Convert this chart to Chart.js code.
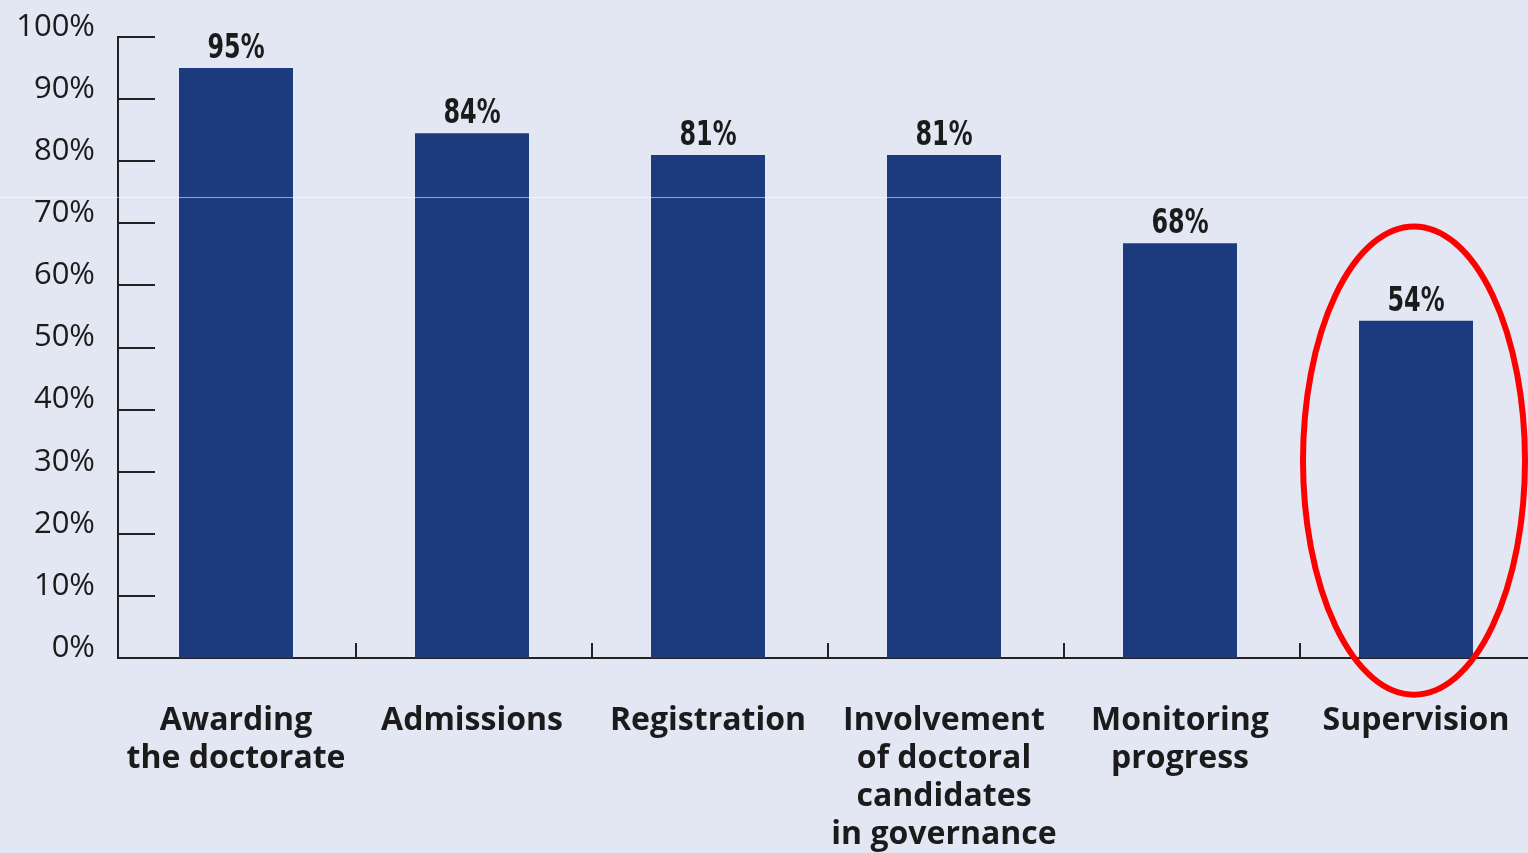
<!DOCTYPE html>
<html>
<head>
<meta charset="utf-8">
<script src="https://cdn.jsdelivr.net/npm/chart.js@4/dist/chart.umd.min.js"></script>
<style>
  html, body { margin: 0; padding: 0; overflow: hidden; background: #e3e6f3; }
  #wrap { width: 1540px; height: 853px; }
</style>
</head>
<body>
<div id="wrap"><canvas id="c" width="1540" height="853"></canvas></div>
<script>
const categories = [
  ["Awarding", "the doctorate"],
  ["Admissions"],
  ["Registration"],
  ["Involvement", "of doctoral", "candidates", "in governance"],
  ["Monitoring", "progress"],
  ["Supervision"]
];
const barValues = [95, 84.5, 81, 81, 66.8, 54.3];
const valueLabels = ["95%", "84%", "81%", "81%", "68%", "54%"];
const yTicks = [0, 10, 20, 30, 40, 50, 60, 70, 80, 90, 100];
const highlightIndex = 5;

const BG = '#e3e6f3';
const BAR = '#1c3b7f';
const INK = '#1b1b1b';

const decor = {
  id: 'decor',
  beforeDraw(chart) {
    const ctx = chart.ctx;
    ctx.save();
    ctx.fillStyle = BG;
    ctx.fillRect(0, 0, chart.width, chart.height);
    ctx.restore();
  },
  afterDatasetsDraw(chart) {
    const ctx = chart.ctx;
    const x = chart.scales.x, y = chart.scales.y;
    const area = chart.chartArea;
    ctx.save();
    ctx.strokeStyle = '#222';
    ctx.lineWidth = 2;
    yTicks.forEach(v => {
      if (v === 0) return;
      const py = Math.round(y.getPixelForValue(v));
      ctx.beginPath();
      ctx.moveTo(area.left, py);
      ctx.lineTo(area.left + 37, py);
      ctx.stroke();
    });
    for (let i = 0; i < categories.length - 1; i++) {
      const px = Math.round((x.getPixelForValue(i) + x.getPixelForValue(i + 1)) / 2) + 2;
      ctx.beginPath();
      ctx.moveTo(px, area.bottom);
      ctx.lineTo(px, area.bottom - 15);
      ctx.stroke();
    }
    ctx.fillStyle = INK;
    ctx.font = 'bold 34px "DejaVu Sans Condensed", "DejaVu Sans", sans-serif';
    ctx.textAlign = 'center';
    ctx.textBaseline = 'alphabetic';
    chart.getDatasetMeta(0).data.forEach((bar, i) => {
      ctx.save();
      ctx.translate(bar.x, bar.y - 10);
      ctx.scale(0.78, 1);
      ctx.fillText(valueLabels[i], 0, 0);
      ctx.restore();
    });
    ctx.restore();
  },
  afterDraw(chart) {
    const ctx = chart.ctx;
    const x = chart.scales.x, y = chart.scales.y;
    ctx.save();
    ctx.strokeStyle = 'rgba(255,255,255,0.55)';
    ctx.lineWidth = 1;
    ctx.beginPath();
    ctx.moveTo(0, 197.5);
    ctx.lineTo(chart.width, 197.5);
    ctx.stroke();
    const cx = x.getPixelForValue(highlightIndex) - 2;
    const cy = y.getPixelForValue(31.8);
    const ry = y.getPixelForValue(0) - y.getPixelForValue(37.7);
    ctx.strokeStyle = '#ff0000';
    ctx.lineWidth = 6;
    ctx.beginPath();
    ctx.ellipse(cx, cy, 111, ry, 0, 0, Math.PI * 2);
    ctx.stroke();
    ctx.restore();
  }
};

new Chart(document.getElementById('c'), {
  type: 'bar',
  data: {
    labels: categories,
    datasets: [{
      data: barValues,
      backgroundColor: BAR,
      borderWidth: 0,
      barPercentage: 1.0,
      categoryPercentage: 0.483
    }]
  },
  options: {
    responsive: false,
    animation: false,
    devicePixelRatio: 1,
    layout: { padding: { top: 37, right: 6, left: 0, bottom: 0 } },
    plugins: { legend: { display: false }, tooltip: { enabled: false } },
    scales: {
      x: {
        grid: { display: false, drawTicks: false },
        border: { display: true, color: '#222', width: 2 },
        afterFit(s) { s.height = 195; s.paddingLeft = 0; s.paddingRight = 0; },
        ticks: {
          autoSkip: false,
          maxRotation: 0,
          minRotation: 0,
          padding: 44,
          color: INK,
          font: { family: '"Open Sans", "Noto Sans", sans-serif', weight: 'bold', size: 32, lineHeight: 1.19 }
        }
      },
      y: {
        min: 0,
        max: 100,
        afterFit(s) { s.width = 118; s.paddingTop = 0; s.paddingBottom = 0; },
        afterBuildTicks(s) { s.ticks = yTicks.map(v => ({ value: v })); },
        grid: { display: false, drawTicks: false },
        border: { display: true, color: '#222', width: 2 },
        ticks: {
          padding: 23,
          labelOffset: -10,
          color: INK,
          font: { family: '"Open Sans", "Noto Sans", sans-serif', size: 31 },
          callback: v => v + '%'
        }
      }
    }
  },
  plugins: [decor]
});
</script>
</body>
</html>
